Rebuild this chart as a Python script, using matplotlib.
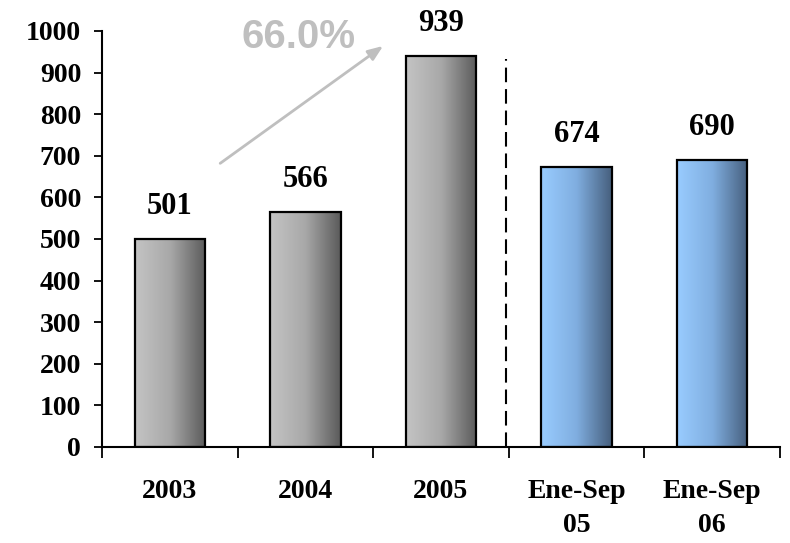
import numpy as np
import matplotlib.pyplot as plt
from matplotlib.colors import LinearSegmentedColormap
from matplotlib.patches import Rectangle

# Datos
categorias = ["2003", "2004", "2005", "Ene-Sep\n05", "Ene-Sep\n06"]
valores = [501, 566, 939, 674, 690]
etiquetas = ["501", "566", "939", "674", "690"]
crecimiento = "66.0%"
yticks = [0, 100, 200, 300, 400, 500, 600, 700, 800, 900, 1000]

# Degradados horizontales (claro a la izquierda, oscuro a la derecha)
cmap_gris = LinearSegmentedColormap.from_list("gris", ["#c4c4c4", "#a8a8a8", "#5a5a5a"])
cmap_azul = LinearSegmentedColormap.from_list("azul", ["#99ccff", "#80aee0", "#465f7d"])
mapas = [cmap_gris, cmap_gris, cmap_gris, cmap_azul, cmap_azul]

fig = plt.figure(figsize=(7.9, 5.43), dpi=100)
ax = fig.add_axes([102 / 790, 96 / 543, 678 / 790, 416 / 543])

x = np.arange(len(categorias))
ancho = 0.52
grad = np.linspace(0, 1, 256).reshape(1, -1)

for xi, v, cm in zip(x, valores, mapas):
    rect = Rectangle((xi - ancho / 2, 0), ancho, v, facecolor="none",
                     edgecolor="black", linewidth=1.6, zorder=3)
    ax.add_patch(rect)
    img = ax.imshow(grad, cmap=cm, aspect="auto", zorder=2,
                    extent=(xi - ancho / 2, xi + ancho / 2, 0, v))
    img.set_clip_path(rect)

for xi, v, t in zip(x, valores, etiquetas):
    ax.text(xi, v + 60, t, ha="center", va="baseline", fontsize=22,
            fontweight="bold", family="Liberation Serif")

ax.set_xlim(-0.5, len(categorias) - 0.5)
ax.set_ylim(0, 1000)
ax.set_yticks(yticks)
ax.set_yticklabels([str(t) for t in yticks], fontsize=20, fontweight="bold",
                   family="Liberation Serif")
ax.tick_params(axis="y", direction="out", length=6, width=1.3, pad=9)

ax.set_xticks(x)
ax.set_xticklabels(categorias, fontsize=20, fontweight="bold",
                   family="Liberation Serif", linespacing=1.5)
ax.tick_params(axis="x", which="major", length=0, pad=23)
ax.set_xticks(np.arange(len(categorias) + 1) - 0.5, minor=True)
ax.tick_params(axis="x", which="minor", direction="out", length=8, width=1.3)

for s in ["top", "right"]:
    ax.spines[s].set_visible(False)
ax.spines["left"].set_linewidth(1.5)
ax.spines["bottom"].set_linewidth(1.5)

# Separador entre años completos y periodos Ene-Sep
ax.plot([2.48, 2.48], [0, 932], color="black", linestyle=(0, (7, 3.3)),
        linewidth=1.5, zorder=4)

# Flecha de crecimiento
ax.annotate("", xy=(1.59, 968), xytext=(0.355, 678),
            arrowprops=dict(arrowstyle="-|>,head_length=0.9,head_width=0.35",
                            color="#bfbfbf", lw=2), annotation_clip=False)
ax.text(0.95, 985, crecimiento, ha="center", va="center", fontsize=29,
        fontweight="bold", color="#bfbfbf", family="Liberation Sans")

fig.savefig("out.png", dpi=100)
